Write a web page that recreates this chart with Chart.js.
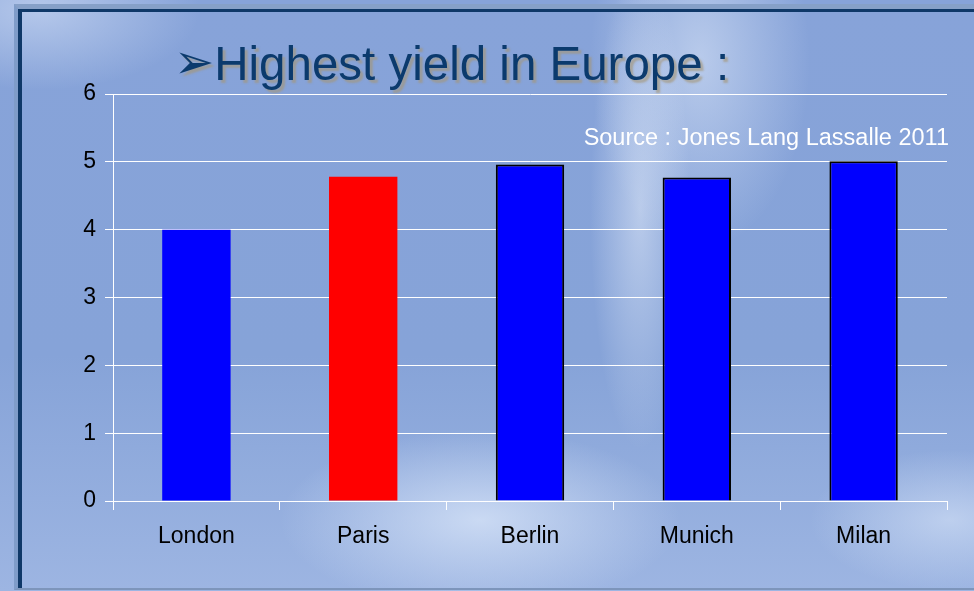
<!DOCTYPE html>
<html>
<head>
<meta charset="utf-8">
<script src="https://cdn.jsdelivr.net/npm/chart.js@4/dist/chart.umd.min.js"></script>
<style>
  html, body { margin: 0; padding: 0; }
  body {
    width: 974px; height: 591px; overflow: hidden; position: relative;
    font-family: "Liberation Sans", Arial, sans-serif;
    background:
      radial-gradient(ellipse 50px 240px at 640px 210px, rgba(235,242,252,0.5), rgba(235,242,252,0) 100%),
      radial-gradient(ellipse 110px 190px at 700px 60px, rgba(225,235,250,0.55), rgba(225,235,250,0) 100%),
      radial-gradient(ellipse 200px 90px at 480px 520px, rgba(215,228,248,0.8), rgba(215,228,248,0) 100%),
      radial-gradient(ellipse 140px 70px at 950px 520px, rgba(215,228,248,0.6), rgba(215,228,248,0) 100%),
      radial-gradient(ellipse 160px 80px at 40px 10px, rgba(200,215,242,0.7), rgba(200,215,242,0) 100%),
      linear-gradient(180deg, #87a3d9 0%, #86a3d8 60%, #9db5e2 100%);
  }
  .frame {
    position: absolute; left: 14px; top: 4px; width: 1000px; height: 579px;
    border-left: 4px solid #7f9cc9; border-top: 5px solid #86a0c8; border-bottom: 2px solid #7d95bb;
  }
  .frame .inner {
    position: absolute; left: 0; top: 0; right: 0; bottom: 0;
    border-left: 4px solid #0f3868; border-top: 3px solid #0f3868;
  }
  #wrap { position: absolute; left: 0; top: 0; width: 974px; height: 591px; }
  .title {
    position: absolute; left: 174px; top: 35px; font-size: 47.5px; color: #0b3a6d;
    text-shadow: 3px 3px 2px rgba(165,150,120,0.65); white-space: nowrap;
  }
  .title .arrow { font-family: "DejaVu Sans", sans-serif; font-size: 48px; position: relative; top: -2px; }
  .source {
    position: absolute; right: 25px; top: 124px; font-size: 23.5px; color: #ffffff; white-space: nowrap;
  }
</style>
</head>
<body>
<div class="frame"><div class="inner"></div></div>
<div id="wrap"><canvas id="chart" width="974" height="591"></canvas></div>
<div class="title"><span class="arrow">➢</span>Highest yield in Europe :</div>
<div class="source">Source : Jones Lang Lassalle 2011</div>
<script>
// data
const cities = ["London", "Paris", "Berlin", "Munich", "Milan"]
const yields = [4.0, 4.78, 4.96, 4.77, 5.01]
const barColors = ["#0000ff", "#ff0000", "#0000ff", "#0000ff", "#0000ff"]
const barEdges = ["#0000ff", "#ff0000", "#000000", "#000000", "#000000"]
const yTicks = [0, 1, 2, 3, 4, 5, 6]

const PLOT_LEFT = 113
const PLOT_TOP = 94
const PLOT_RIGHT = 947
const PLOT_BOTTOM = 501

Chart.defaults.font.family = '"Liberation Sans", Arial, sans-serif'

new Chart(document.getElementById("chart"), {
  type: "bar",
  data: {
    labels: cities,
    datasets: [{
      data: yields,
      backgroundColor: barColors,
      borderColor: barEdges,
      borderWidth: [0, 0, 2, 2, 2],
      borderSkipped: "bottom",
      categoryPercentage: 1,
      barPercentage: 0.41
    }]
  },
  options: {
    responsive: false,
    animation: false,
    devicePixelRatio: 1,
    layout: { padding: { left: 0, top: PLOT_TOP, right: 974 - PLOT_RIGHT, bottom: 0 } },
    plugins: { legend: { display: false }, tooltip: { enabled: false } },
    scales: {
      x: {
        grid: { color: "#ffffff", drawOnChartArea: false, drawTicks: true, tickLength: 9, lineWidth: 1 },
        border: { color: "#ffffff", width: 1 },
        ticks: { color: "#000000", font: { size: 23 }, padding: 13 },
        afterFit: (scale) => { scale.height = 591 - PLOT_BOTTOM }
      },
      y: {
        min: yTicks[0],
        max: yTicks[yTicks.length - 1],
        afterBuildTicks: (scale) => { scale.ticks = yTicks.map(v => ({ value: v })) },
        grid: { color: "#ffffff", tickLength: 8, lineWidth: 1 },
        border: { color: "#ffffff", width: 1 },
        ticks: { color: "#000000", font: { size: 23 }, padding: 9 },
        afterFit: (scale) => { scale.width = PLOT_LEFT }
      }
    }
  }
})
</script>
</body>
</html>
